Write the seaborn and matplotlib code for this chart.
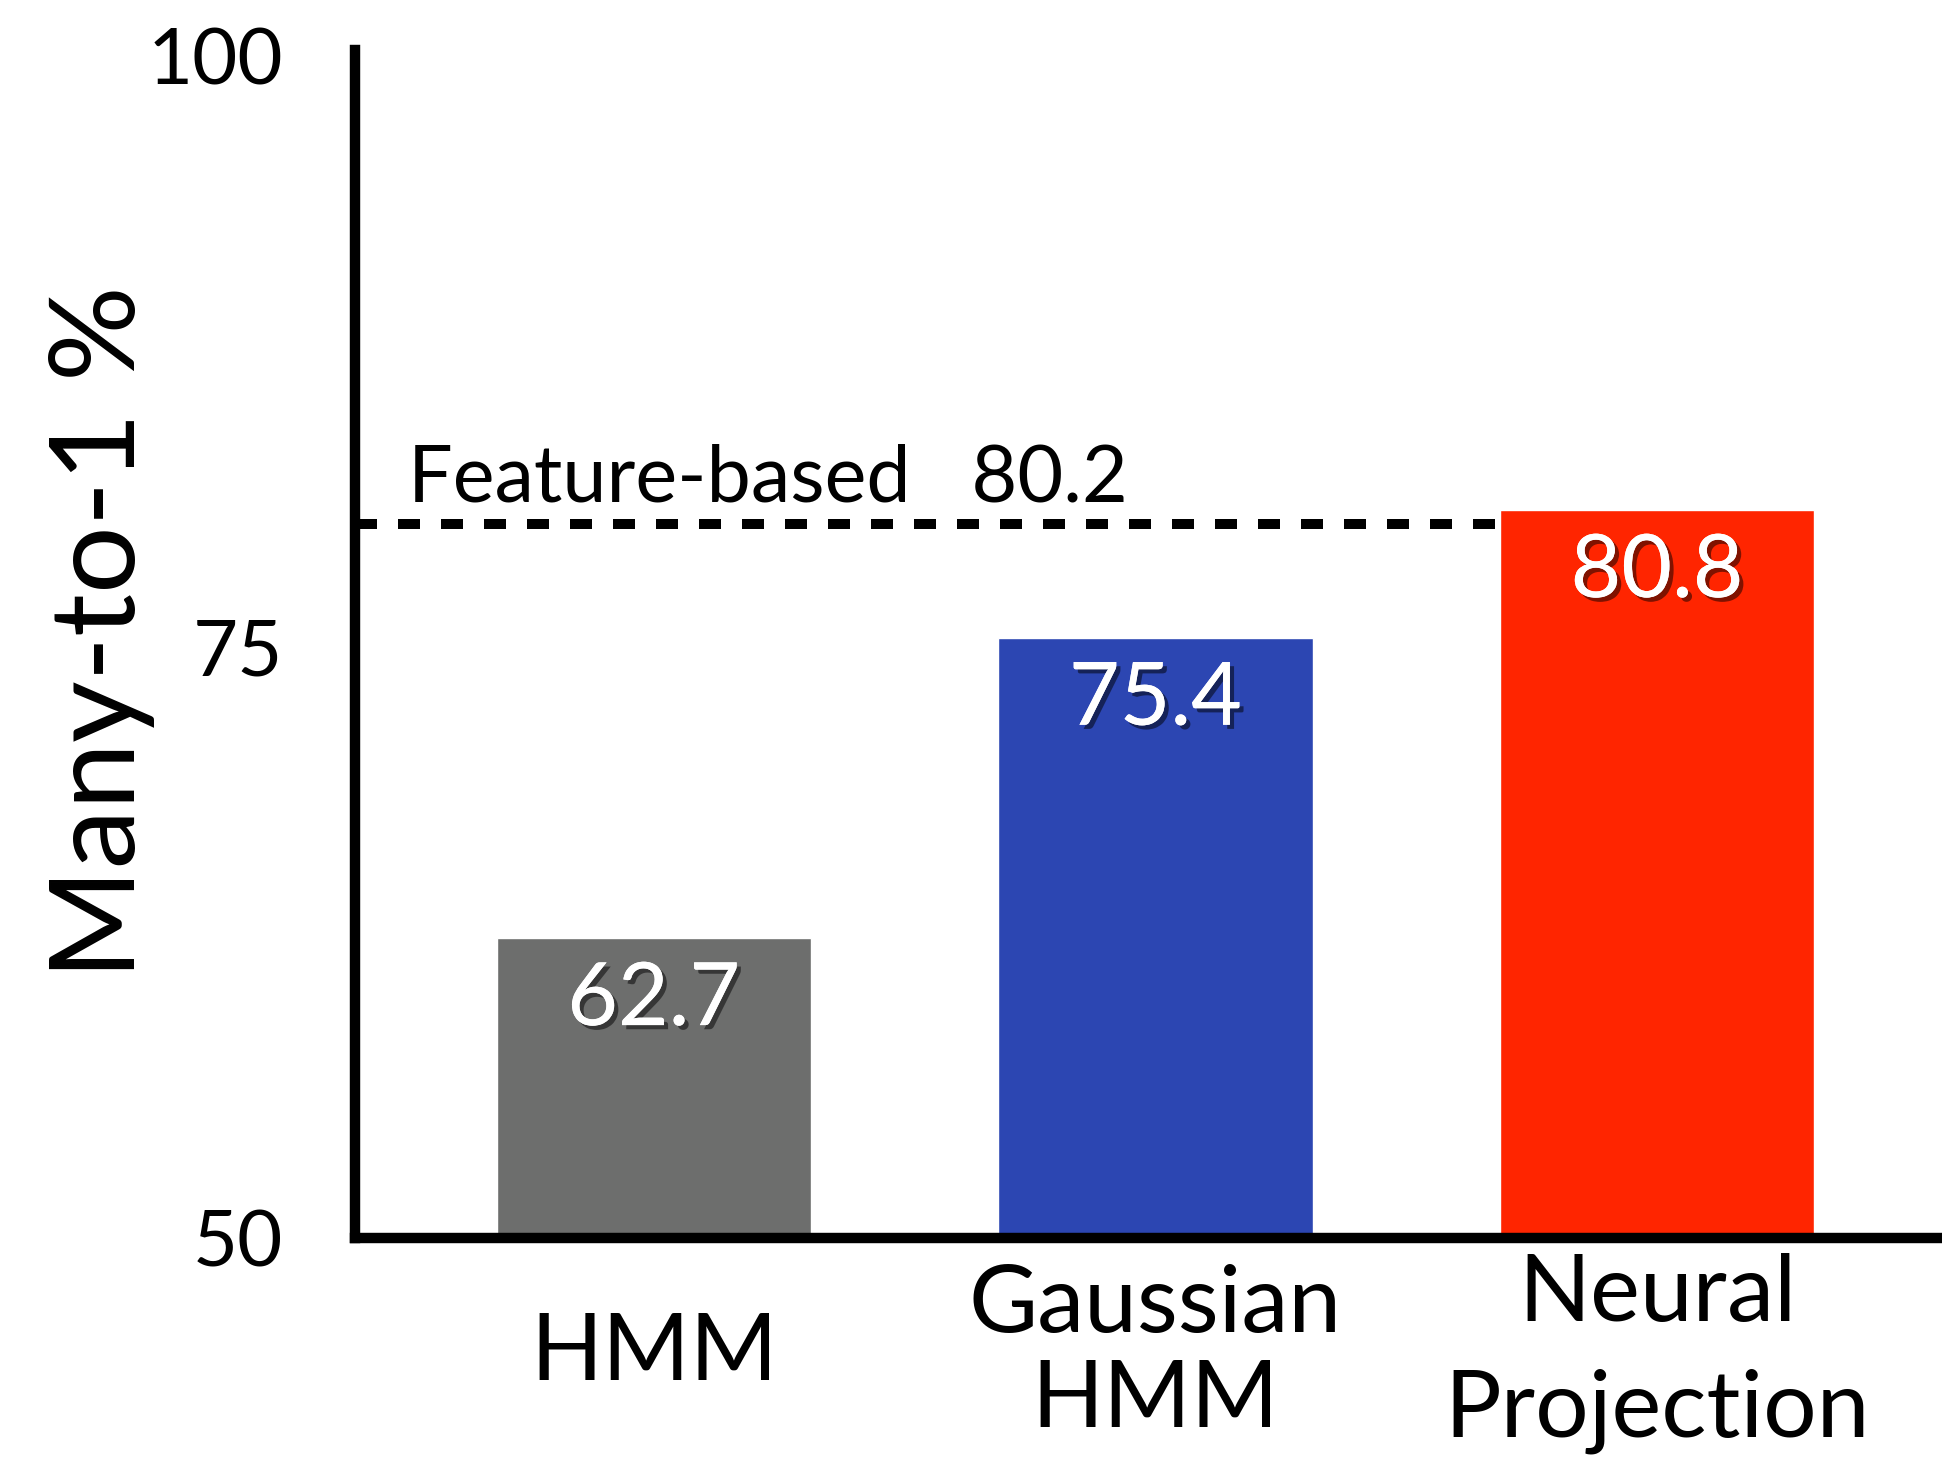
import matplotlib
matplotlib.use("Agg")
import matplotlib.pyplot as plt
import matplotlib.patheffects as pe
import seaborn as sns

# Many-to-1 accuracy of each model
categories = ["HMM", "Gaussian\nHMM", "Neural\nProjection"]
values = [62.7, 75.4, 80.8]
bar_colors = ["#6d6e6d", "#2c46b2", "#ff2500"]
baseline_name = "Feature-based"
baseline_value = 80.2
y_ticks = [50, 75, 100]
y_label = "Many-to-1 %"

sns.set_theme(style="white")
plt.rcParams["font.family"] = ["Lato", "DejaVu Sans"]
plt.rcParams["text.color"] = "black"
plt.rcParams["xtick.color"] = "black"
plt.rcParams["ytick.color"] = "black"
plt.rcParams["axes.labelcolor"] = "black"

fig = plt.figure(figsize=(19.42, 14.58), dpi=100)
ax = fig.add_axes([0.183, 0.1506, 0.817, 0.8154])

bar_width = 0.627
sns.barplot(x=categories, y=values, hue=categories, palette=bar_colors,
            width=bar_width, saturation=1, legend=False, ax=ax, zorder=2)

ax.set_xlim(-0.595, 2.568)
ax.set_ylim(50, 100.27)

# Reference line for the feature-based system, running up to the last bar
last_left = 2 - bar_width / 2
ax.hlines(baseline_value, ax.get_xlim()[0], last_left, colors="black",
          linewidth=7.2, linestyles=(0, (2.2, 2.1)), zorder=1)
ax.annotate(f"{baseline_name}   {baseline_value}", xy=(-0.49, baseline_value),
            xytext=(0, 16), textcoords="offset points",
            ha="left", va="baseline", fontsize=57, color="black")

# Value labels inside each bar
for i, v in enumerate(values):
    ax.annotate(f"{v}", xy=(i, v), xytext=(0, -45), textcoords="offset points",
                ha="center", va="center", fontsize=63, color="white", zorder=4,
                path_effects=[pe.withSimplePatchShadow(offset=(3, -3),
                                                       shadow_rgbFace="black",
                                                       alpha=0.5),
                              pe.Normal()])

# Axes styling
for side in ("top", "right"):
    ax.spines[side].set_visible(False)
for side in ("left", "bottom"):
    ax.spines[side].set_linewidth(7.5)
    ax.spines[side].set_color("black")
    ax.spines[side].set_zorder(5)

ax.set_yticks(y_ticks)
ax.set_yticklabels([str(t) for t in y_ticks], fontsize=56)
ax.tick_params(axis="y", length=0, pad=52)

ax.set_xticks(range(len(categories)))
ax.set_xticklabels(categories, fontsize=68, va="center")
ax.tick_params(axis="x", length=0, pad=83)
spacings = [1.0, 1.16, 1.47]
for lab, ls in zip(ax.get_xticklabels(), spacings):
    lab.set_linespacing(ls)

ax.set_xlabel("")
ax.set_ylabel(y_label, fontsize=86)
ax.yaxis.set_label_coords(-0.126, 0.51)

fig.savefig("out.png", dpi=100)
